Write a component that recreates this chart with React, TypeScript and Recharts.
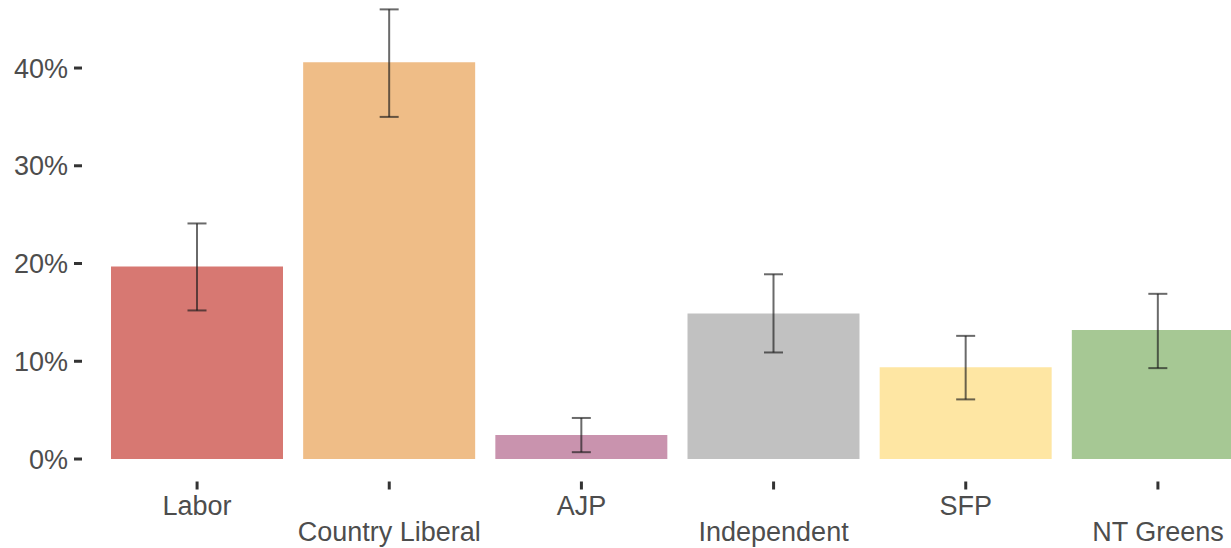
import React from 'react';
import { BarChart, Bar, XAxis, YAxis, ErrorBar, Cell } from 'recharts';

const parties = ['Labor', 'Country Liberal', 'AJP', 'Independent', 'SFP', 'NT Greens'];
const shares = [19.7, 40.6, 2.45, 14.9, 9.4, 13.2];
const lower = [15.2, 35.0, 0.7, 10.9, 6.1, 9.3];
const upper = [24.1, 46.0, 4.2, 18.9, 12.6, 16.9];
const colors = ['#d77872', '#efbd87', '#c993ae', '#c1c1c1', '#fee6a3', '#a6c894'];
const yTicks = [0, 10, 20, 30, 40];

const data = parties.map((p, i) => ({
  party: p,
  share: shares[i],
  err: [shares[i] - lower[i], upper[i] - shares[i]],
}));

const FONT = '"Liberation Sans", Arial, Helvetica, sans-serif';
const TEXT = '#4d4d4d';

const XTick = (props: any) => {
  const { x, y, payload, index } = props;
  const dy = index % 2 === 0 ? 23.5 : 49.5;
  return (
    <text x={x} y={y + dy} textAnchor="middle" fill={TEXT} fontSize={27} fontFamily={FONT}>
      {payload.value}
    </text>
  );
};

export default function App() {
  return (
    <div style={{ position: 'absolute', left: 0, top: 0, width: 1231, height: 548, overflow: 'hidden', background: '#fff' }}>
      <BarChart
        width={1273}
        height={548}
        data={data}
        margin={{ top: 0, right: 0, bottom: 0, left: 0 }}
        barCategoryGap={10}
      >
        <XAxis
          dataKey="party"
          axisLine={false}
          tickLine={{ stroke: '#333', strokeWidth: 3 }}
          tickSize={8}
          tickMargin={2}
          height={66.5}
          interval={0}
          tick={<XTick />}
          padding={{ left: 19, right: 19 }}
        />
        <YAxis
          type="number"
          domain={[-2.3, 46.96]}
          allowDataOverflow
          ticks={yTicks}
          tickFormatter={(v: number) => `${v}%`}
          axisLine={false}
          tickLine={{ stroke: '#333', strokeWidth: 3 }}
          tickSize={8}
          tickMargin={6}
          width={82}
          tick={{ fill: TEXT, fontSize: 27, fontFamily: FONT }}
        />
        <Bar dataKey="share" barSize={172} isAnimationActive={false}>
          {data.map((d, i) => (
            <Cell key={d.party} fill={colors[i]} />
          ))}
          <ErrorBar
            dataKey="err"
            width={9.5}
            stroke="#1a1a1a"
            strokeOpacity={0.65}
            strokeWidth={2}
            isAnimationActive={false}
          />
        </Bar>
      </BarChart>
    </div>
  );
}
